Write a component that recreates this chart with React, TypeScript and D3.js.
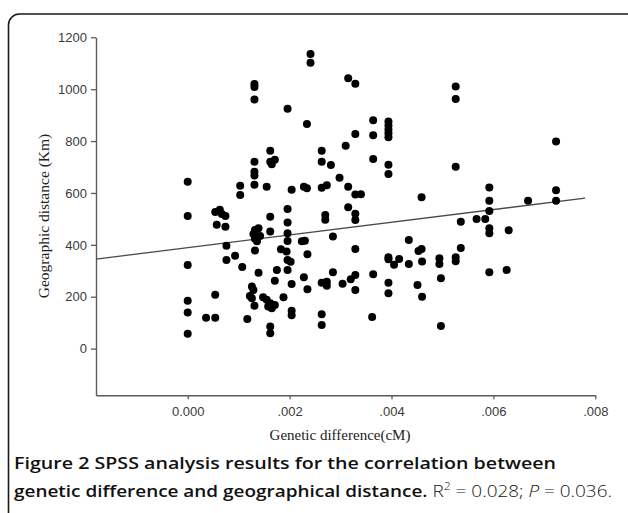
import React, { useRef, useEffect } from "react";
import * as d3 from "d3";

// genetic difference (cM) vs geographic distance (Km)
const samples: [number, number][] = [
  [0, 643], [0, 511], [0, 322], [0, 184], [0, 139], [0, 57],
  [0.00036, 119], [0.00054, 119], [0.00054, 208], [0.00054, 527],
  [0.00063, 535], [0.00067, 519], [0.00074, 511], [0.00057, 477], [0.00074, 470],
  [0.00076, 396], [0.00076, 342], [0.00093, 358],
  [0.00103, 628], [0.00103, 592], [0.00107, 315], [0.00117, 114],
  [0.00131, 1020], [0.00131, 1008], [0.00131, 960], [0.00131, 720], [0.00131, 682], [0.00131, 667], [0.00131, 632],
  [0.00132, 457], [0.00139, 464], [0.00129, 442], [0.00142, 434], [0.00132, 423], [0.00136, 414], [0.00132, 378], [0.00131, 165],
  [0.00126, 239], [0.00129, 226], [0.00122, 203], [0.00126, 194],
  [0.00139, 292],
  [0.00148, 198], [0.00155, 188], [0.00162, 175], [0.00158, 162], [0.00165, 156], [0.00171, 168],
  [0.00155, 624],
  [0.00162, 763], [0.00162, 720], [0.00162, 508], [0.00162, 451], [0.00162, 85], [0.00162, 59],
  [0.00171, 728], [0.00165, 711], [0.00171, 262], [0.00175, 303], [0.00183, 383], [0.00188, 198], [0.00194, 374],
  [0.00196, 925], [0.00196, 538], [0.00196, 486], [0.00196, 445], [0.00196, 415], [0.00196, 342], [0.00196, 303],
  [0.00202, 335], [0.00204, 612], [0.00204, 249], [0.00204, 146], [0.00204, 129],
  [0.00224, 414], [0.0023, 416], [0.00228, 275], [0.00228, 624],
  [0.00234, 866], [0.00234, 618], [0.00235, 364], [0.00235, 229],
  [0.00241, 1136], [0.00241, 1102],
  [0.00263, 763], [0.00263, 720], [0.00263, 620], [0.00263, 254], [0.00263, 132], [0.00263, 91],
  [0.0027, 515], [0.0027, 497],
  [0.00273, 630], [0.00273, 258], [0.00273, 242],
  [0.00281, 708], [0.00285, 432], [0.00285, 294], [0.00298, 659], [0.00304, 250], [0.0031, 782],
  [0.00315, 1042], [0.00315, 624], [0.00315, 545], [0.0032, 267],
  [0.00329, 1021], [0.00329, 827], [0.00329, 594], [0.00329, 520], [0.00329, 496], [0.00329, 384], [0.00329, 284], [0.00329, 226],
  [0.0034, 595], [0.00362, 122],
  [0.00364, 880], [0.00364, 822], [0.00364, 731], [0.00364, 287],
  [0.00394, 875], [0.00394, 860], [0.00394, 845], [0.00394, 830], [0.00394, 815], [0.00394, 709], [0.00394, 673],
  [0.00394, 352], [0.00394, 344], [0.00394, 254], [0.00394, 213],
  [0.00405, 323], [0.00415, 345], [0.00434, 419], [0.00434, 326], [0.00451, 245], [0.00453, 376],
  [0.00459, 384], [0.00459, 583], [0.0046, 336], [0.0046, 200],
  [0.00494, 348], [0.00494, 326], [0.00497, 271], [0.00497, 87],
  [0.00526, 1010], [0.00526, 962], [0.00526, 701], [0.00526, 352], [0.00526, 337],
  [0.00536, 489], [0.00536, 388], [0.00567, 500], [0.00584, 500],
  [0.00592, 621], [0.00592, 570], [0.00592, 530], [0.00592, 464], [0.00592, 445], [0.00592, 294],
  [0.00626, 303], [0.0063, 456], [0.00668, 570],
  [0.00723, 798], [0.00723, 610], [0.00723, 570],
];

const xTicks = [0, 0.002, 0.004, 0.006, 0.008];
const yTicks = [0, 200, 400, 600, 800, 1000, 1200];
const xDomain = [-0.0018, 0.008];
const yDomain = [-180, 1200];
// linear fit drawn by SPSS
const fitIntercept = 389;
const fitSlope = 24480;
const fitRange = [-0.0018, 0.0078];

const xTitle = "Genetic difference(cM)";
const yTitle = "Geographic distance (Km)";
const captionBold1 = "Figure 2 SPSS analysis results for the correlation between";
const captionBold2 = "genetic difference and geographical distance.";

const App = () => {
  const ref = useRef<SVGSVGElement>(null);

  useEffect(() => {
    const svg = d3.select(ref.current);
    svg.selectAll("*").remove();

    // frame with rounded corners (runs off right / bottom)
    svg.append("rect")
      .attr("x", 8.5).attr("y", 14)
      .attr("width", 630).attr("height", 520)
      .attr("rx", 11)
      .attr("fill", "none")
      .attr("stroke", "#1a1a1a")
      .attr("stroke-width", 1.6);

    const x = d3.scaleLinear().domain(xDomain).range([96, 595.3]);
    const y = d3.scaleLinear().domain(yDomain).range([395.3, 37.3]);

    const axisColor = "#5a5a5a";

    const xAxis = svg.append("g")
      .attr("transform", "translate(0,395.3)")
      .call(
        d3.axisBottom(x)
          .tickValues(xTicks)
          .tickSizeOuter(0)
          .tickSizeInner(4)
          .tickPadding(7)
          .tickFormat((d: any) => (d === 0 ? "0.000" : d3.format(".3f")(d).replace(/^0/, "")))
      );

    const yAxis = svg.append("g")
      .attr("transform", "translate(96,0)")
      .call(
        d3.axisLeft(y)
          .tickValues(yTicks)
          .tickSizeOuter(0)
          .tickSizeInner(5)
          .tickPadding(4)
          .tickFormat(d3.format("d"))
      );

    [xAxis, yAxis].forEach((g) => {
      g.select(".domain").attr("stroke", axisColor).attr("stroke-width", 1.4);
      g.selectAll(".tick line").attr("stroke", axisColor).attr("stroke-width", 1.3);
      g.selectAll(".tick text")
        .attr("fill", "#3a3a3a")
        .style("font-family", "'Liberation Sans', Arial, sans-serif")
        .style("font-size", "13px");
    });

    // regression line
    const line = d3.line<number>()
      .x((d) => x(d))
      .y((d) => y(fitIntercept + fitSlope * d));
    svg.append("path")
      .datum(fitRange)
      .attr("d", line)
      .attr("fill", "none")
      .attr("stroke", "#4a4a4a")
      .attr("stroke-width", 1.3);

    // points
    svg.append("g")
      .selectAll("circle")
      .data(samples)
      .enter()
      .append("circle")
      .attr("cx", (d) => x(d[0]))
      .attr("cy", (d) => y(d[1]))
      .attr("r", 4)
      .attr("fill", "#000");

    // axis titles
    svg.append("text")
      .attr("x", 340).attr("y", 440)
      .attr("text-anchor", "middle")
      .style("font-family", "'Liberation Serif', 'Times New Roman', serif")
      .style("font-size", "15px")
      .attr("fill", "#222")
      .text(xTitle);

    svg.append("text")
      .attr("transform", "translate(49,216) rotate(-90)")
      .attr("text-anchor", "middle")
      .style("font-family", "'Liberation Serif', 'Times New Roman', serif")
      .style("font-size", "15.5px")
      .attr("fill", "#222")
      .text(yTitle);

    // caption
    const capFont = "'Open Sans', 'Noto Sans', sans-serif";
    svg.append("text")
      .attr("x", 14).attr("y", 469)
      .attr("textLength", 542)
      .attr("lengthAdjust", "spacingAndGlyphs")
      .style("font-family", capFont)
      .style("font-size", "17px")
      .style("font-weight", 600)
      .attr("fill", "#111")
      .text(captionBold1);

    const t2 = svg.append("text")
      .attr("x", 14).attr("y", 497)
      .attr("textLength", 598)
      .attr("lengthAdjust", "spacingAndGlyphs")
      .style("font-family", capFont)
      .style("font-size", "17px")
      .attr("fill", "#111");
    t2.append("tspan").style("font-weight", 600).text(captionBold2 + " ");
    t2.append("tspan").style("font-weight", 300).text("R");
    t2.append("tspan").style("font-weight", 300).attr("dy", -7).style("font-size", "11px").text("2");
    t2.append("tspan").style("font-weight", 300).attr("dy", 7).text(" = 0.028; ");
    t2.append("tspan").style("font-weight", 300).style("font-style", "italic").text("P");
    t2.append("tspan").style("font-weight", 300).text(" = 0.036.");
  }, []);

  return (
    <svg
      ref={ref}
      width={628}
      height={513}
      style={{ position: "absolute", left: 0, top: 0, background: "#fff" }}
    />
  );
};

export default App;
